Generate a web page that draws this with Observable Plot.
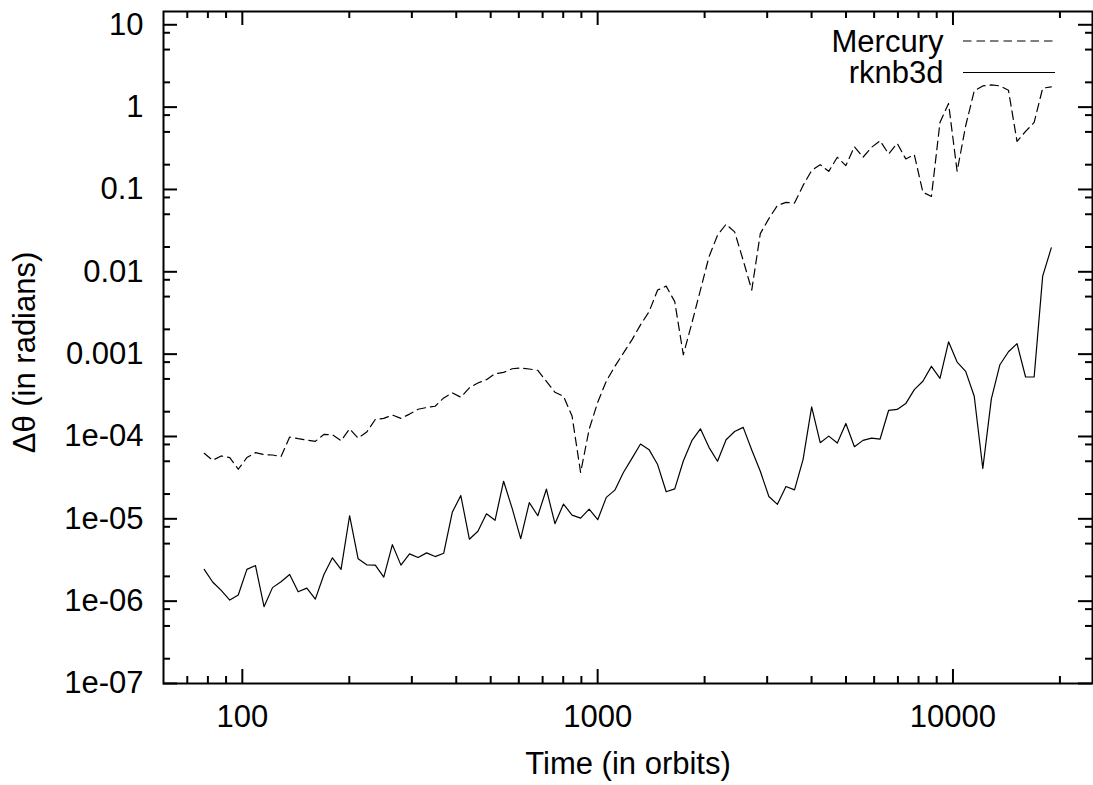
<!DOCTYPE html>
<html><head><meta charset="utf-8">
<script src="https://cdn.jsdelivr.net/npm/d3@7"></script>
<script src="https://cdn.jsdelivr.net/npm/@observablehq/plot@0.6"></script>
<style>body{margin:0;background:#fff} svg{display:block}</style>
</head><body><div id="chart"></div>
<script>
// Time (in orbits)
const times = [78.1, 82.5, 87.2, 92.2, 97.4, 103.0, 108.9, 115.1, 121.6, 128.5,
  135.9, 143.6, 151.9, 160.5, 169.7, 179.3, 189.6, 200.4, 211.8, 223.9,
  236.7, 250.1, 264.4, 279.5, 295.5, 312.3, 330.1, 348.8, 368.8, 389.8,
  412.0, 435.5, 460.3, 486.5, 514.3, 543.7, 574.7, 607.4, 642.1, 678.6,
  717.4, 758.3, 801.5, 847.2, 895.5, 946.5, 1000.5, 1057.6, 1117.9, 1181.6,
  1249.0, 1320.1, 1395.5, 1475.0, 1559.2, 1648.1, 1742.1, 1841.3, 1946.4, 2057.4,
  2174.7, 2298.7, 2429.8, 2568.0, 2714.6, 2869.4, 3033.0, 3206.0, 3388.8, 3581.7,
  3786.0, 4001.9, 4230.1, 4471.3, 4726.3, 4995.3, 5280.2, 5581.3, 5899.5, 6235.9,
  6591.5, 6966.7, 7364.0, 7783.9, 8227.7, 8696.9, 9192.8, 9718.0, 10273, 10859,
  11478, 12133, 12825, 13555, 14328, 15145, 16009, 16922, 17885, 18910];

// Δθ for Mercury (dashed)
const mercury = [6.25e-5, 5.14e-5, 5.80e-5, 5.55e-5, 4.0e-5, 5.55e-5, 6.37e-5, 6.02e-5, 5.96e-5, 5.69e-5,
  9.84e-5, 9.4e-5, 9.05e-5, 8.73e-5, 1.06e-4, 1.05e-4, 8.89e-5, 1.24e-4, 9.57e-5, 1.13e-4,
  1.61e-4, 1.66e-4, 1.82e-4, 1.66e-4, 1.87e-4, 2.14e-4, 2.25e-4, 2.33e-4, 2.94e-4, 3.39e-4,
  3.0e-4, 3.89e-4, 4.47e-4, 4.9e-4, 5.79e-4, 6.0e-4, 6.65e-4, 6.78e-4, 6.6e-4, 6.35e-4,
  4.68e-4, 3.44e-4, 3.08e-4, 1.77e-4, 3.65e-5, 1.22e-4, 2.61e-4, 4.7e-4, 7.1e-4, 1.03e-3,
  1.49e-3, 2.27e-3, 3.28e-3, 6.0e-3, 6.7e-3, 4.34e-3, 9.84e-4, 2.38e-3, 6.0e-3, 1.52e-2,
  2.78e-2, 3.78e-2, 3.05e-2, 1.38e-2, 6.0e-3, 2.91e-2, 4.42e-2, 6.4e-2, 6.97e-2, 6.83e-2,
  0.112, 0.170, 0.200, 0.166, 0.246, 0.195, 0.331, 0.246, 0.325, 0.391,
  0.270, 0.363, 0.235, 0.265, 0.0927, 0.0822, 0.652, 1.107, 0.166, 0.594,
  1.57, 1.81, 1.86, 1.81, 1.60, 0.384, 0.507, 0.652, 1.70, 1.76];

// Δθ for rknb3d (solid)
const rknb3d = [2.43e-6, 1.71e-6, 1.35e-6, 1.03e-6, 1.19e-6, 2.43e-6, 2.71e-6, 8.57e-7, 1.46e-6, 1.72e-6,
  2.11e-6, 1.30e-6, 1.44e-6, 1.06e-6, 2.11e-6, 3.36e-6, 2.43e-6, 1.09e-5, 3.27e-6, 2.76e-6,
  2.74e-6, 1.96e-6, 4.86e-6, 2.74e-6, 3.75e-6, 3.39e-6, 3.86e-6, 3.48e-6, 3.82e-6, 1.20e-5,
  1.92e-5, 5.65e-6, 7.06e-6, 1.15e-5, 9.6e-6, 2.86e-5, 1.34e-5, 5.74e-6, 1.57e-5, 1.09e-5,
  2.29e-5, 8.73e-6, 1.51e-5, 1.11e-5, 1.02e-5, 1.31e-5, 9.75e-6, 1.82e-5, 2.23e-5, 3.65e-5,
  5.43e-5, 8.09e-5, 6.92e-5, 4.56e-5, 2.13e-5, 2.31e-5, 5.04e-5, 8.89e-5, 1.24e-4, 7.38e-5,
  5.0e-5, 9.14e-5, 1.15e-4, 1.29e-4, 6.85e-5, 3.78e-5, 1.87e-5, 1.50e-5, 2.47e-5, 2.25e-5,
  5.28e-5, 2.29e-4, 8.41e-5, 1.01e-4, 8.32e-5, 1.44e-4, 7.52e-5, 8.97e-5, 9.57e-5, 9.31e-5,
  2.08e-4, 2.13e-4, 2.51e-4, 3.71e-4, 4.68e-4, 7.10e-4, 5.08e-4, 1.41e-3, 8.02e-4, 6.18e-4,
  3.08e-4, 4.08e-5, 2.86e-4, 7.44e-4, 1.07e-3, 1.34e-3, 5.28e-4, 5.28e-4, 8.87e-3, 1.95e-2];

const seriesNames = ["Mercury", "rknb3d"];
const xMajor = [100, 1000, 10000];
const xMajorLabels = ["100", "1000", "10000"];
const xMinor = [70, 80, 90, 200, 300, 400, 500, 600, 700, 800, 900,
  2000, 3000, 4000, 5000, 6000, 7000, 8000, 9000, 20000];
const yMajor = [1e-7, 1e-6, 1e-5, 1e-4, 1e-3, 1e-2, 1e-1, 1, 10];
const yMajorLabels = ["1e-07", "1e-06", "1e-05", "1e-04", "0.001", "0.01", "0.1", "1", "10"];
const yMinor = [2e-7, 5e-7, 8e-7, 2e-6, 5e-6, 8e-6, 2e-5, 5e-5, 8e-5, 2e-4, 5e-4, 8e-4,
  2e-3, 5e-3, 8e-3, 2e-2, 5e-2, 8e-2, 0.2, 0.5, 0.8, 2, 5, 8];
const xLabel = "Time (in orbits)";
const yLabel = "Δθ (in radians)";

const W = 1093, H = 785, mL = 163, mR = 1, mT = 11, mB = 102;
const plotW = W - mL - mR, plotH = H - mT - mB;
const FONT = "'Liberation Sans', Arial, Helvetica, sans-serif";
const FS = 31;

const data = times.map((t, i) => ({t, v: mercury[i], s: seriesNames[0]}));
const data2 = times.map((t, i) => ({t, v: rknb3d[i], s: seriesNames[1]}));

const MAJ = 14, MIN = 7;
const tickStyle = {stroke: "black", strokeWidth: 2};
const txt = {fontSize: FS, fill: "black", lineAnchor: "middle"};

const chart = Plot.plot({
  width: W, height: H,
  marginLeft: mL, marginRight: mR, marginTop: mT, marginBottom: mB,
  style: {fontFamily: FONT, background: "white", color: "black"},
  x: {type: "log", domain: [60, 24700], axis: null},
  y: {type: "log", domain: [1e-7, 14.5], axis: null},
  marks: [
    // ticks, mirrored on all sides, pointing inward
    Plot.tickX(xMajor, {x: d => d, insetTop: plotH - MAJ, ...tickStyle}),
    Plot.tickX(xMajor, {x: d => d, insetBottom: plotH - MAJ, ...tickStyle}),
    Plot.tickX(xMinor, {x: d => d, insetTop: plotH - MIN, ...tickStyle}),
    Plot.tickX(xMinor, {x: d => d, insetBottom: plotH - MIN, ...tickStyle}),
    Plot.tickY(yMajor, {y: d => d, insetRight: plotW - MAJ, ...tickStyle}),
    Plot.tickY(yMajor, {y: d => d, insetLeft: plotW - MAJ, ...tickStyle}),
    Plot.tickY(yMinor, {y: d => d, insetRight: plotW - MIN, ...tickStyle}),
    Plot.tickY(yMinor, {y: d => d, insetLeft: plotW - MIN, ...tickStyle}),
    // tick labels
    Plot.text(xMajor, {x: d => d, text: (d, i) => xMajorLabels[i], frameAnchor: "bottom", textAnchor: "middle", dy: 34, ...txt}),
    Plot.text(yMajor, {y: d => d, text: (d, i) => yMajorLabels[i], frameAnchor: "left", textAnchor: "end", dx: -20, ...txt}),
    // axis titles
    Plot.text([xLabel], {text: d => d, frameAnchor: "bottom", textAnchor: "middle", dy: 81, ...txt}),
    Plot.text([yLabel], {text: d => d, frameAnchor: "left", textAnchor: "middle", rotate: -90, dx: -138, dy: 5, ...txt}),
    // data
    Plot.line(data, {x: "t", y: "v", stroke: "black", strokeWidth: 1.2, strokeDasharray: "8.5,5"}),
    Plot.line(data2, {x: "t", y: "v", stroke: "black", strokeWidth: 1.2}),
    // legend labels
    Plot.text([seriesNames[0]], {text: d => d, frameAnchor: "top-right", textAnchor: "end", dx: -149, dy: 31, ...txt}),
    Plot.text([seriesNames[1]], {text: d => d, frameAnchor: "top-right", textAnchor: "end", dx: -149, dy: 62, ...txt}),
    Plot.frame({stroke: "black", strokeWidth: 2})
  ]
});

// legend sample lines
const svg = d3.select(chart);
const lg = svg.append("g").attr("stroke", "black").attr("stroke-width", 1.2);
lg.append("line").attr("x1", 963).attr("x2", 1055).attr("y1", 41).attr("y2", 41).attr("stroke-dasharray", "8.5,5");
lg.append("line").attr("x1", 963).attr("x2", 1055).attr("y1", 72.5).attr("y2", 72.5);

document.getElementById("chart").appendChild(chart);
</script>
</body></html>
